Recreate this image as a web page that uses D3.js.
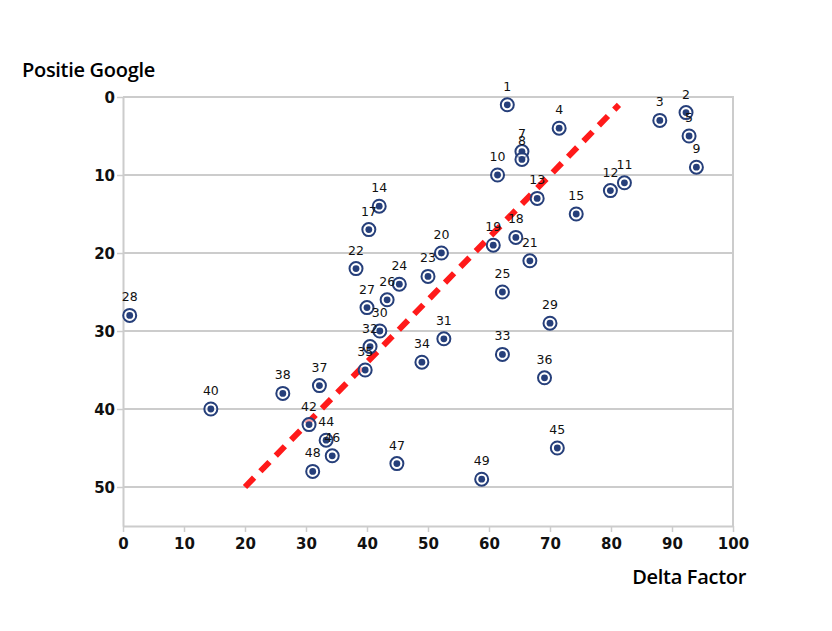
<!DOCTYPE html>
<html>
<head>
<meta charset="utf-8">
<script src="https://cdn.jsdelivr.net/npm/d3@7"></script>
<style>
  body { margin: 0; background: #fff; }
  svg { display: block; }
</style>
</head>
<body>
<div id="chart"></div>
<script>
// point ids, Delta Factor (x) and Positie Google (y)
const ids = [1, 2, 3, 4, 5, 7, 8, 9, 10, 11, 12, 13, 14, 15, 17, 18, 19, 20, 21, 22, 23, 24, 25, 26, 27, 28, 29, 30, 31, 32, 33, 34, 35, 36, 37, 38, 40, 42, 44, 45, 46, 47, 48, 49];
const delta = [63.0, 92.3, 88.0, 71.5, 92.8, 65.4, 65.4, 94.0, 61.4, 82.2, 79.9, 67.9, 42.0, 74.3, 40.3, 64.4, 60.7, 52.2, 66.7, 38.2, 50.0, 45.3, 62.2, 43.3, 40.0, 1.1, 70.0, 42.1, 52.6, 40.5, 62.2, 49.0, 39.7, 69.1, 32.2, 26.2, 14.4, 30.5, 33.3, 71.2, 34.3, 44.9, 31.1, 58.8];
const positie = [1, 2, 3, 4, 5, 7, 8, 9, 10, 11, 12, 13, 14, 15, 17, 18, 19, 20, 21, 22, 23, 24, 25, 26, 27, 28, 29, 30, 31, 32, 33, 34, 35, 36, 37, 38, 40, 42, 44, 45, 46, 47, 48, 49];

// trend line end points
const trendX = [20, 81.3];
const trendY = [50, 1];

const xTicks = [0, 10, 20, 30, 40, 50, 60, 70, 80, 90, 100];
const yTicks = [0, 10, 20, 30, 40, 50];

const width = 832;
const height = 631;
const margin = {top: 97, right: 99, bottom: 105, left: 123};

const points = ids.map((id, i) => ({id: id, x: delta[i], y: positie[i]}));

const svg = d3.select("#chart")
  .append("svg")
    .attr("width", width)
    .attr("height", height);

const x = d3.scaleLinear()
  .domain([0, 100])
  .range([margin.left, width - margin.right]);

const y = d3.scaleLinear()
  .domain([0, 55])
  .range([margin.top, margin.top + 429]);

const grid = "#cccccc";

// gridlines
svg.append("g")
  .selectAll("line")
  .data(yTicks)
  .enter()
  .append("line")
    .attr("x1", x(0))
    .attr("x2", x(100))
    .attr("y1", d => y(d))
    .attr("y2", d => y(d))
    .attr("stroke", grid)
    .attr("stroke-width", 2);

// right border
svg.append("line")
  .attr("x1", x(100)).attr("x2", x(100))
  .attr("y1", y(0) - 1).attr("y2", y(55))
  .attr("stroke", grid)
  .attr("stroke-width", 2);

// axes
const xAxis = svg.append("g")
  .attr("transform", `translate(0,${y(55)})`)
  .call(d3.axisBottom(x).tickValues(xTicks).tickSize(6).tickPadding(6).tickSizeOuter(0));

const yAxis = svg.append("g")
  .attr("transform", `translate(${x(0)},0)`)
  .call(d3.axisLeft(y).tickValues(yTicks).tickSize(6).tickPadding(2).tickSizeOuter(0));

[xAxis, yAxis].forEach(a => {
  a.select(".domain").attr("stroke", grid).attr("stroke-width", 2);
  a.selectAll(".tick line").attr("stroke", grid).attr("stroke-width", 1.5);
  a.selectAll(".tick text")
    .attr("fill", "#111")
    .style("font-family", "'DejaVu Sans', sans-serif")
    .style("font-weight", "bold")
    .style("font-size", "15px");
});
yAxis.selectAll(".tick text").attr("dy", "0.35em");

// trend line
svg.append("line")
  .attr("x1", x(trendX[0])).attr("y1", y(trendY[0]))
  .attr("x2", x(trendX[1])).attr("y2", y(trendY[1]))
  .attr("stroke", "#ff1a1a")
  .attr("stroke-width", 6)
  .attr("stroke-dasharray", "13,9");

// points
const navy = "#263f7a";
const dots = svg.append("g")
  .selectAll("g")
  .data(points)
  .enter()
  .append("g")
    .attr("transform", d => `translate(${x(d.x)},${y(d.y)})`);

dots.append("circle")
  .attr("r", 6.5)
  .attr("fill", "#fff")
  .attr("fill-opacity", 0.6)
  .attr("stroke", navy)
  .attr("stroke-width", 2);

dots.append("circle")
  .attr("r", 3.4)
  .attr("fill", navy);

dots.append("text")
  .attr("y", -14)
  .attr("text-anchor", "middle")
  .attr("fill", "#111")
  .style("font-family", "'DejaVu Sans', sans-serif")
  .style("font-size", "12.5px")
  .text(d => d.id);

// axis titles
svg.append("text")
  .attr("x", 22)
  .attr("y", 77)
  .attr("fill", "#000")
  .style("font-family", "'Open Sans', sans-serif")
  .style("font-weight", 600)
  .style("font-size", "20px")
  .style("letter-spacing", "-0.3px")
  .text("Positie Google");

svg.append("text")
  .attr("x", 746)
  .attr("y", 584)
  .attr("text-anchor", "end")
  .attr("fill", "#000")
  .style("font-family", "'Open Sans', sans-serif")
  .style("font-weight", 600)
  .style("font-size", "20px")
  .style("letter-spacing", "-0.3px")
  .text("Delta Factor");
</script>
</body>
</html>
